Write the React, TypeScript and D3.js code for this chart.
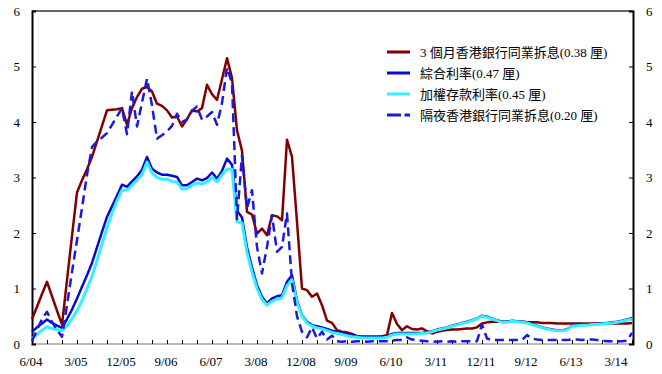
import React, { useEffect, useRef } from 'react';
import * as d3 from 'd3';

// monthly, 6/04 .. 6/14
const hibor3m = [
  0.45, 0.67, 0.9, 1.12, 0.86, 0.6, 0.35, 1.15, 1.95, 2.73, 2.95, 3.15, 3.37, 3.65, 3.93, 4.21,
  4.22, 4.23, 4.25, 3.95, 4.25, 4.45, 4.6, 4.63, 4.55, 4.33, 4.29, 4.21, 4.08, 4.1, 3.92, 4.05,
  4.21, 4.19, 4.25, 4.67, 4.5, 4.4, 4.77, 5.15, 4.79, 3.85, 3.48, 2.38, 2.33, 1.99, 2.08, 1.96,
  2.32, 2.3, 2.23, 3.68, 3.37, 2.2, 1.0, 0.97, 0.85, 0.91, 0.7, 0.42, 0.38, 0.25, 0.22, 0.21,
  0.18, 0.14, 0.13, 0.13, 0.13, 0.13, 0.14, 0.16, 0.56, 0.36, 0.25, 0.32, 0.27, 0.26, 0.28, 0.23,
  0.19, 0.22, 0.24, 0.25, 0.26, 0.26, 0.27, 0.28, 0.28, 0.3, 0.37, 0.39, 0.4, 0.4, 0.4, 0.4,
  0.4, 0.4, 0.4, 0.39, 0.39, 0.39, 0.38, 0.38, 0.38, 0.37, 0.37, 0.37, 0.37, 0.37, 0.37, 0.37,
  0.37, 0.37, 0.37, 0.37, 0.37, 0.37, 0.37, 0.37, 0.38,
];
const composite = [
  0.22, 0.3, 0.37, 0.44, 0.38, 0.33, 0.29, 0.45, 0.62, 0.82, 1.03, 1.24, 1.46, 1.74, 2.02, 2.29,
  2.48, 2.67, 2.87, 2.83, 2.93, 3.02, 3.14, 3.37, 3.16, 3.09, 3.05, 3.05, 3.03, 3.01, 2.86, 2.86,
  2.92, 2.98, 2.95, 2.99, 3.09, 2.98, 3.12, 3.34, 3.23, 2.4, 2.28, 1.74, 1.38, 1.06, 0.85, 0.73,
  0.82, 0.86, 0.88, 1.12, 1.24, 0.78, 0.52, 0.4, 0.34, 0.32, 0.3, 0.27, 0.24, 0.22, 0.2, 0.18,
  0.16, 0.14, 0.13, 0.13, 0.13, 0.13, 0.13, 0.14, 0.18, 0.2, 0.2, 0.2, 0.2, 0.2, 0.2, 0.21,
  0.23, 0.26, 0.28, 0.3, 0.33, 0.35, 0.38, 0.4, 0.43, 0.46, 0.51, 0.49, 0.46, 0.43, 0.4, 0.4,
  0.42, 0.41, 0.4, 0.39, 0.36, 0.33, 0.3, 0.28, 0.26, 0.25, 0.25, 0.26, 0.33, 0.34, 0.35, 0.35,
  0.36, 0.36, 0.37, 0.38, 0.39, 0.4, 0.42, 0.44, 0.47,
];
const deposit = [
  0.1, 0.17, 0.25, 0.31, 0.28, 0.26, 0.24, 0.33, 0.45, 0.6, 0.78, 1.0, 1.22, 1.5, 1.8, 2.1,
  2.35, 2.58, 2.77, 2.77, 2.86, 2.95, 3.05, 3.28, 3.08, 3.0, 2.97, 2.97, 2.93, 2.92, 2.79, 2.8,
  2.86, 2.9, 2.88, 2.92, 3.0, 2.92, 3.05, 3.15, 3.15, 2.2, 2.18, 1.65, 1.3, 1.0, 0.8, 0.7,
  0.77, 0.81, 0.83, 1.05, 1.16, 0.75, 0.5, 0.38, 0.32, 0.29, 0.27, 0.24, 0.21, 0.19, 0.17, 0.15,
  0.13, 0.12, 0.11, 0.11, 0.11, 0.11, 0.11, 0.12, 0.16, 0.18, 0.18, 0.18, 0.18, 0.18, 0.19, 0.2,
  0.22, 0.25, 0.27, 0.29, 0.32, 0.34, 0.37, 0.39, 0.42, 0.45, 0.5, 0.48, 0.45, 0.42, 0.39, 0.39,
  0.41, 0.4, 0.39, 0.38, 0.35, 0.32, 0.29, 0.27, 0.25, 0.24, 0.24, 0.25, 0.32, 0.33, 0.34, 0.34,
  0.35, 0.35, 0.36, 0.37, 0.38, 0.39, 0.41, 0.43, 0.45,
];
const overnight = [
  0.06, 0.25, 0.45, 0.58, 0.4, 0.25, 0.13, 0.7, 1.3, 1.87, 2.45, 3.05, 3.55, 3.65, 3.72, 3.8,
  3.95, 4.1, 4.25, 3.78, 4.55, 3.92, 4.35, 4.78, 4.3, 3.7, 3.76, 3.83, 3.93, 4.15, 4.0, 4.05,
  4.2, 4.28, 4.04, 4.1, 4.18, 3.95, 4.34, 4.98, 4.7, 2.25, 3.4, 2.45, 2.77, 1.75, 1.27, 1.75,
  2.32, 1.66, 1.75, 2.35, 1.1, 0.5, 0.22, 0.12, 0.3, 0.1, 0.22, 0.08, 0.15, 0.05, 0.04, 0.05,
  0.04, 0.05, 0.05, 0.04, 0.05, 0.05, 0.05, 0.05, 0.06, 0.07, 0.07, 0.12, 0.08, 0.07, 0.06, 0.05,
  0.05, 0.04, 0.05, 0.04, 0.05, 0.04, 0.05, 0.05, 0.05, 0.05, 0.35, 0.1, 0.07, 0.07, 0.07, 0.07,
  0.07, 0.07, 0.07, 0.16, 0.1, 0.08, 0.07, 0.07, 0.07, 0.07, 0.07, 0.07, 0.08, 0.08, 0.07, 0.08,
  0.08, 0.07, 0.06, 0.05, 0.05, 0.05, 0.05, 0.06, 0.2,
];

const xTickLabels = ['6/04', '3/05', '12/05', '9/06', '6/07', '3/08', '12/08', '9/09', '6/10', '3/11', '12/11', '9/12', '6/13', '3/14'];
const yTicks = [0, 1, 2, 3, 4, 5, 6];

const seriesNames = [
  '3 個月香港銀行同業拆息(0.38 厘)',
  '綜合利率(0.47 厘)',
  '加權存款利率(0.45 厘)',
  '隔夜香港銀行同業拆息(0.20 厘)',
];

const W = 662;
const H = 374;
const left = 32;
const right = 633;
const top = 11;
const bottom = 344;
const font = '"Liberation Serif", "Times New Roman", "Noto Sans CJK TC", serif';

const App: React.FC = () => {
  const ref = useRef<SVGSVGElement>(null);

  useEffect(() => {
    const svg = d3.select(ref.current);
    svg.selectAll('*').remove();

    const n = hibor3m.length;
    const x = d3.scaleLinear().domain([0, n - 1]).range([left, right - 1]);
    const y = d3.scaleLinear().domain([0, 6]).range([bottom, top]);

    // frame
    svg.append('line').attr('x1', left).attr('x2', right).attr('y1', top).attr('y2', top)
      .attr('stroke', '#333').attr('stroke-width', 1.5);
    svg.append('line').attr('x1', left).attr('x2', right).attr('y1', bottom).attr('y2', bottom)
      .attr('stroke', '#777').attr('stroke-width', 1);

    const gl = svg.append('g').attr('transform', `translate(${left},0)`)
      .call(d3.axisLeft(y).tickValues(yTicks).tickSize(-4).tickPadding(12).tickFormat(d3.format('d')));
    const gr = svg.append('g').attr('transform', `translate(${right},0)`)
      .call(d3.axisRight(y).tickValues(yTicks).tickSize(-4).tickPadding(13).tickFormat(d3.format('d')));
    [gl, gr].forEach(g => {
      g.select('.domain').attr('stroke', '#000').attr('stroke-width', 2);
      g.selectAll('line').attr('stroke', '#000');
      g.selectAll('text').attr('font-family', font).attr('font-size', 13).attr('fill', '#000');
    });

    const quarters = d3.range(0, n, 3);
    const gx = svg.append('g').attr('transform', `translate(0,${bottom})`)
      .call(d3.axisBottom(x).tickValues(quarters).tickSize(-4).tickFormat(() => ''));
    gx.select('.domain').remove();
    gx.selectAll('line').attr('stroke', '#000');

    svg.append('g').selectAll('text')
      .data(xTickLabels)
      .enter().append('text')
      .attr('x', (_, i) => x(i * 9) - 1)
      .attr('y', 366)
      .attr('text-anchor', 'middle')
      .attr('font-family', font)
      .attr('font-size', 13)
      .text(d => d);

    const line = d3.line<number>().x((_, i) => x(i)).y(d => y(d));
    const styles = [
      { data: hibor3m, color: '#800000', width: 2.5, dash: null },
      { data: composite, color: '#0A0ACF', width: 2.5, dash: null },
      { data: deposit, color: '#33F0FF', width: 3, dash: null },
      { data: overnight, color: '#1A1ADA', width: 2.5, dash: '9,5' },
    ];
    styles.forEach(s => {
      svg.append('path')
        .datum(s.data)
        .attr('fill', 'none')
        .attr('stroke', s.color)
        .attr('stroke-width', s.width)
        .attr('stroke-linejoin', 'round')
        .attr('stroke-dasharray', s.dash)
        .attr('d', line);
    });

    const legend = svg.append('g');
    styles.forEach((s, i) => {
      const ly = 52 + i * 21;
      legend.append('line')
        .attr('x1', 387).attr('x2', 410).attr('y1', ly).attr('y2', ly)
        .attr('stroke', s.color).attr('stroke-width', 3)
        .attr('stroke-dasharray', s.dash ? '14,3.5,5.5,30' : null);
      legend.append('text')
        .attr('x', 420).attr('y', ly + 4.5)
        .attr('font-family', font).attr('font-size', 13)
        .text(seriesNames[i]);
    });
  }, []);

  return (
    <svg ref={ref} width={W} height={H} style={{ position: 'absolute', left: 0, top: 0, background: '#fff' }} />
  );
};

export default App;
